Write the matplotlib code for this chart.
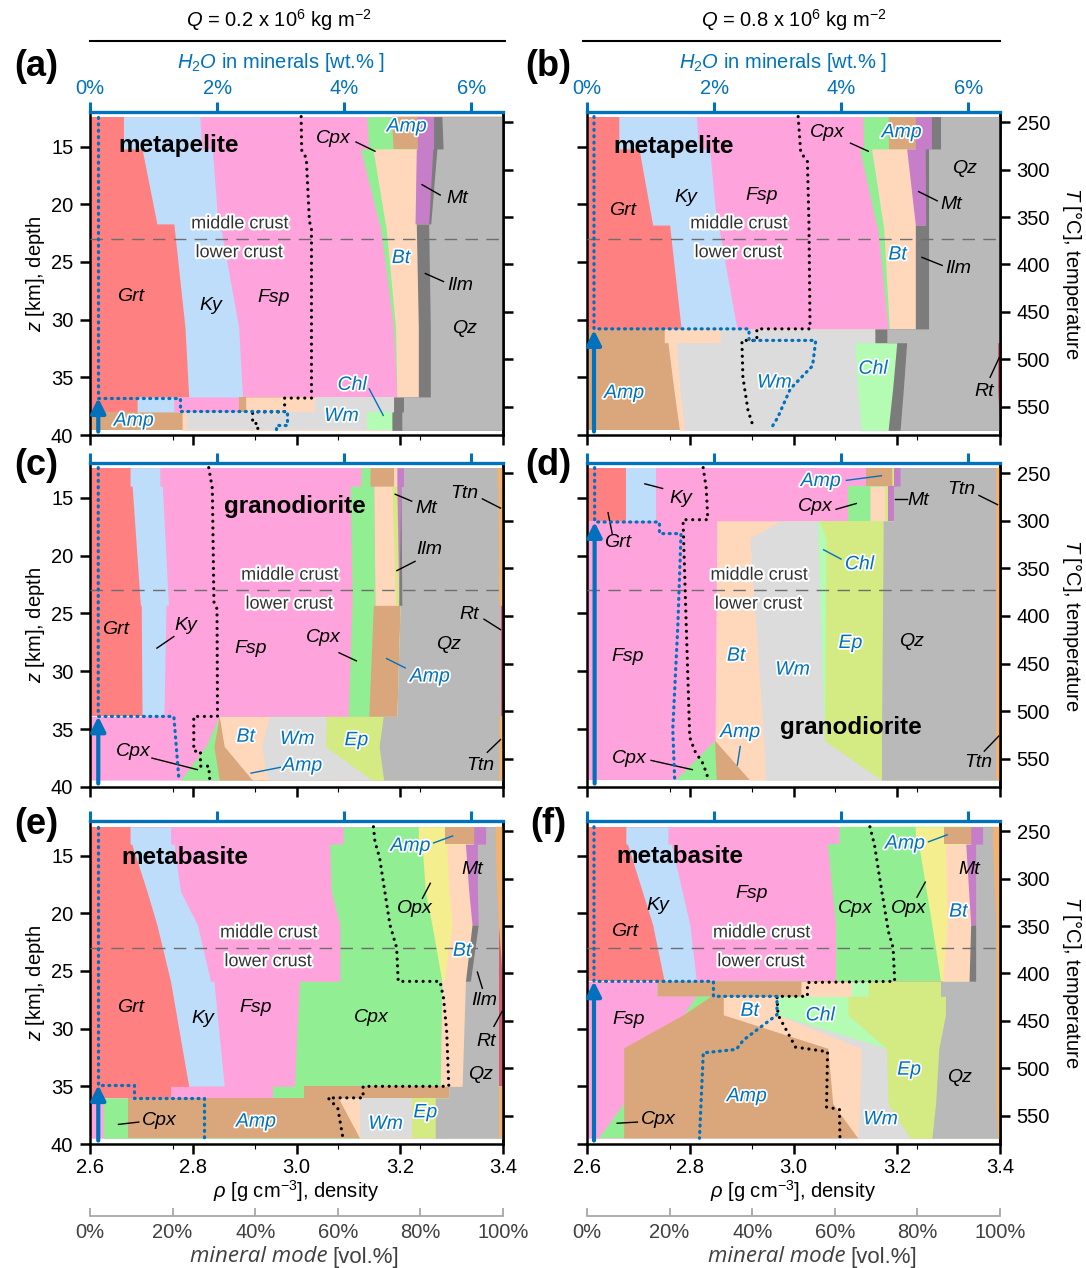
import numpy as np
import matplotlib
matplotlib.use('Agg')
import matplotlib.pyplot as plt
import matplotlib.patheffects as pe

plt.rcParams['font.family'] = ['Liberation Sans', 'DejaVu Sans']
plt.rcParams['mathtext.fontset'] = 'custom'
plt.rcParams['mathtext.rm'] = 'Liberation Sans'
plt.rcParams['mathtext.it'] = 'Liberation Sans:italic'
plt.rcParams['mathtext.bf'] = 'Liberation Sans:bold'

BLUE = '#0072BD'
W, H = 1086, 1268

# stacking order of the phases (left -> right); Amp_low is amphibole that
# appears on the left side of the column below the dehydration front
order = ['Amp_low', 'Grt', 'Ky', 'Fsp', 'Cpx', 'Opx', 'Amp', 'Bt', 'Wm', 'Chl',
         'Ep', 'Mt', 'Ilm', 'Qz', 'Rt', 'Ttn']
colors = {'Amp_low': '#D9A77B', 'Grt': '#FF8080', 'Ky': '#BEDDFB', 'Fsp': '#FFA3DC',
          'Cpx': '#92EE92', 'Opx': '#F4EE8E', 'Amp': '#D9A77B', 'Bt': '#FFD8BC',
          'Wm': '#DCDCDC', 'Chl': '#B4FBB4', 'Ep': '#D4EA82', 'Mt': '#C77EC9',
          'Ilm': '#7C7C7C', 'Qz': '#B9B9B9', 'Rt': '#D45C70', 'Ttn': '#F2B272'}

# ---------------- (a) metapelite, Q = 0.2 ----------------
z_a = [12.4, 15.2, 15.2, 21.7, 21.7, 30.7, 36.7, 36.7, 38.0, 38.0, 39.6]
modes_a = {
    'Amp_low': [0, 0, 0, 0, 0, 0, 0, 0, 0, 22.3, 22.3],
    'Grt': [8.1, 8.1, 12.6, 16.2, 20.3, 23.0, 23.9, 11.4, 11.4, 0, 0],
    'Ky': [18.5, 18.9, 17.0, 14.8, 11.2, 13.0, 13.0, 8.9, 8.9, 0, 0],
    'Fsp': [40.4, 40.5, 35.9, 39.0, 38.7, 37.5, 37.4, 15.8, 15.8, 0, 0],
    'Cpx': [6.1, 6.0, 3.0, 1.5, 1.4, 0.5, 0, 0, 0, 0, 0],
    'Amp': [6.0, 5.8, 0, 0, 0, 0, 0, 1.6, 1.6, 0, 0],
    'Bt': [0, 0, 10.5, 7.2, 7.4, 5.5, 5.2, 16.7, 16.7, 1.2, 1.2],
    'Wm': [0, 0, 0, 0, 0, 0, 0, 19.1, 19.1, 43.5, 43.5],
    'Chl': [0, 0, 0, 0, 0, 0, 0, 0, 0, 6.1, 6.1],
    'Mt': [4.1, 3.9, 4.0, 3.3, 0, 0, 0, 0, 0, 0, 0],
    'Ilm': [2.0, 2.3, 1.0, 0.5, 3.0, 2.9, 2.9, 2.4, 2.4, 2.4, 2.4],
    'Qz': [14.8, 14.5, 16.0, 17.5, 18.0, 17.6, 17.6, 24.1, 24.1, 24.5, 24.5],
}
rho_z_a = [12.4, 15.3, 16.0, 21.5, 22.0, 36.8, 36.8, 38.0, 38.0, 39.0, 39.0, 39.6]
rho_a = [3.009, 3.010, 3.019, 3.025, 3.029, 3.029, 2.977, 2.977, 2.915, 2.915, 2.925, 2.925]
h2o_z_a = [12.4, 36.8, 36.8, 37.9, 37.9, 39.1, 39.1, 39.6]
h2o_a = [0.13, 0.13, 1.42, 1.42, 3.10, 3.10, 2.93, 2.93]

# ---------------- (b) metapelite, Q = 0.8 ----------------
z_b = [12.4, 15.2, 15.2, 21.8, 21.8, 30.8, 30.8, 32.0, 32.0, 36.0, 39.6]
modes_b = {
    'Amp_low': [0, 0, 0, 0, 0, 0, 18.7, 18.7, 19.6, 21.0, 22.4],
    'Grt': [7.7, 7.7, 12.6, 15.9, 20.0, 22.8, 0, 0, 0, 0, 0],
    'Ky': [18.8, 19.3, 17.1, 15.5, 11.8, 13.5, 0, 0, 0, 0, 0],
    'Fsp': [40.3, 40.0, 36.3, 38.7, 38.5, 36.6, 0, 0, 0, 0, 0],
    'Cpx': [6.1, 6.0, 2.9, 1.6, 1.5, 0.3, 0, 0, 0, 0, 0],
    'Amp': [6.6, 6.5, 0, 0, 0, 0, 0, 0, 0, 0, 0],
    'Bt': [0, 0, 8.5, 7.8, 7.7, 6.3, 13.5, 13.5, 2.0, 1.5, 1.2],
    'Wm': [0, 0, 0, 0, 0, 0, 37.5, 37.5, 43.2, 43.0, 42.8],
    'Chl': [0, 0, 0, 0, 0, 0, 0, 0, 10.2, 8.5, 6.5],
    'Mt': [3.9, 3.9, 4.5, 2.5, 0, 0, 0, 0, 0, 0, 0],
    'Ilm': [2.2, 2.2, 0.8, 0.7, 3.2, 3.2, 2.9, 2.9, 2.4, 2.6, 2.9],
    'Qz': [14.4, 14.4, 17.3, 17.3, 17.3, 17.3, 27.4, 27.4, 22.0, 22.8, 24.2],
    'Rt': [0, 0, 0, 0, 0, 0, 0, 0, 0.6, 0.6, 0],
}
rho_z_b = [12.4, 15.5, 16.3, 21.8, 30.8, 30.8, 31.8, 31.8, 35.0, 37.9, 39.4]
rho_b = [3.009, 3.014, 3.027, 3.030, 3.032, 2.929, 2.929, 2.900, 2.902, 2.912, 2.923]
h2o_z_b = [12.4, 30.8, 30.8, 31.8, 31.8, 34.0, 36.0, 38.5, 39.4]
h2o_b = [0.11, 0.11, 2.55, 2.55, 3.60, 3.55, 3.20, 3.00, 2.90]

# ---------------- (c) granodiorite, Q = 0.2 ----------------
z_c = [12.4, 14.0, 14.0, 24.3, 24.3, 33.9, 33.9, 36.5, 39.4]
modes_c = {
    'Grt': [9.7, 9.7, 10.2, 12.2, 12.4, 12.6, 0, 0, 0],
    'Ky': [7.2, 7.2, 7.3, 6.8, 6.0, 5.3, 0, 0, 0],
    'Fsp': [48.7, 48.7, 45.5, 44.5, 45.0, 44.6, 31.3, 28.0, 21.9],
    'Cpx': [2.2, 2.2, 5.7, 5.5, 5.2, 5.0, 0, 2.0, 9.4],
    'Amp': [5.7, 5.7, 0, 0, 6.5, 6.8, 0, 2.5, 8.0],
    'Bt': [0.8, 0.8, 4.4, 5.0, 0, 0, 12.1, 9.0, 3.8],
    'Wm': [0, 0, 0, 0, 0, 0, 13.8, 15.5, 25.2],
    'Ep': [0, 0, 1.2, 0.8, 0, 0, 13.8, 13.0, 2.8],
    'Mt': [1.6, 1.6, 1.0, 0, 0, 0, 0, 0, 0],
    'Ilm': [0, 0, 0, 0.7, 0, 0, 0, 0, 0],
    'Qz': [22.7, 22.7, 23.5, 23.5, 24.3, 25.1, 28.0, 29.0, 27.9],
    'Rt': [0, 0, 0, 0, 0.6, 0.6, 0, 0, 0],
    'Ttn': [1.4, 1.4, 1.2, 1.0, 0, 0, 1.0, 1.0, 1.0],
}
rho_z_c = [12.4, 14.2, 24.0, 24.6, 33.9, 33.9, 36.9, 36.9, 38.2, 38.2, 39.4]
rho_c = [2.830, 2.837, 2.840, 2.846, 2.847, 2.801, 2.801, 2.814, 2.814, 2.830, 2.832]
h2o_z_c = [12.4, 33.9, 33.9, 39.4]
h2o_c = [0.13, 0.13, 1.32, 1.40]

# ---------------- (d) granodiorite, Q = 0.8 ----------------
z_d = [12.4, 14.0, 14.0, 17.0, 17.0, 18.5, 36.0, 39.4]
modes_d = {
    'Grt': [9.4, 9.4, 9.4, 9.4, 0, 0, 0, 0],
    'Ky': [7.3, 7.3, 7.3, 7.3, 0, 0, 0, 0],
    'Fsp': [50.9, 50.9, 46.5, 46.5, 31.4, 31.4, 31.0, 21.6],
    'Cpx': [0, 0, 5.3, 5.3, 0, 0, 0, 9.8],
    'Amp': [6.2, 6.2, 0, 0, 0, 0, 0, 8.0],
    'Bt': [0, 0, 3.6, 3.6, 15.5, 8.0, 11.8, 3.8],
    'Wm': [0, 0, 0, 0, 9.0, 16.5, 14.7, 28.1],
    'Chl': [0, 0, 0, 0, 0.3, 2.0, 0, 0],
    'Ep': [0.6, 0.6, 0.8, 0.8, 15.5, 13.8, 13.8, 0],
    'Mt': [1.4, 1.4, 1.3, 1.3, 0, 0, 0, 0],
    'Qz': [23.2, 23.2, 24.8, 24.8, 27.3, 27.3, 27.7, 27.7],
    'Ttn': [1.0, 1.0, 1.0, 1.0, 1.0, 1.0, 1.0, 1.0],
}
rho_z_d = [12.4, 14.2, 16.9, 16.9, 25.7, 35.7, 36.9, 38.0, 39.3]
rho_d = [2.825, 2.831, 2.834, 2.786, 2.792, 2.799, 2.809, 2.825, 2.835]
h2o_z_d = [12.4, 17.1, 17.1, 18.1, 18.1, 26.0, 35.0, 39.4]
h2o_d = [0.12, 0.12, 1.14, 1.14, 1.48, 1.43, 1.35, 1.38]

# ---------------- (e) metabasite, Q = 0.2 ----------------
z_e = [12.5, 14.0, 14.0, 18.1, 21.0, 21.0, 25.9, 25.9, 35.0, 35.0, 36.0, 36.0, 39.5]
modes_e = {
    'Grt': [9.7, 9.7, 10.1, 13.8, 16.2, 16.2, 19.5, 19.5, 23.9, 19.5, 19.5, 0, 0],
    'Ky': [9.8, 9.8, 10.2, 8.1, 9.8, 9.8, 9.7, 10.5, 8.6, 0, 0, 0, 0],
    'Fsp': [41.8, 41.8, 37.7, 36.5, 34.5, 34.5, 31.3, 20.7, 17.0, 24.7, 24.7, 3.2, 3.2],
    'Cpx': [18.2, 18.2, 22.4, 22.8, 22.3, 22.3, 24.7, 34.5, 35.3, 7.7, 7.7, 6.1, 6.1],
    'Opx': [6.5, 6.5, 6.0, 5.7, 4.9, 4.9, 0.5, 0, 0, 0, 0, 0, 0],
    'Amp': [6.9, 6.9, 0, 0, 0, 0, 0, 0, 0, 35.0, 35.0, 50.8, 56.0],
    'Bt': [0, 0, 4.5, 4.8, 4.8, 4.8, 5.2, 5.7, 5.3, 0, 0, 5.2, 0],
    'Wm': [0, 0, 0, 0, 0, 0, 0, 0, 0, 0, 0, 12.6, 12.6],
    'Ep': [0, 0, 0, 0, 0, 0, 0, 0, 0, 0, 0, 5.7, 5.7],
    'Mt': [2.9, 2.9, 2.9, 2.1, 1.5, 0, 0, 0, 0, 0, 0, 0, 0],
    'Ilm': [0, 0, 0, 0, 0, 1.5, 1.2, 0, 0, 0, 0, 0, 0],
    'Qz': [2.4, 2.4, 4.4, 4.8, 5.0, 5.0, 6.9, 8.1, 8.9, 12.1, 12.1, 15.4, 15.4],
    'Rt': [0, 0, 0, 0, 0, 0, 1.0, 1.0, 1.0, 0, 0, 0, 0],
    'Ttn': [1.8, 1.8, 1.8, 1.4, 1.0, 1.0, 0, 0, 0, 1.0, 1.0, 1.0, 1.0],
}
rho_z_e = [12.5, 13.8, 15.2, 18.1, 21.0, 23.0, 25.9, 25.9, 27.4, 30.3, 35.0, 35.0,
           36.0, 36.0, 36.9, 39.5]
rho_e = [3.149, 3.152, 3.161, 3.171, 3.181, 3.194, 3.197, 3.278, 3.285, 3.291, 3.295,
         3.129, 3.129, 3.061, 3.080, 3.090]
h2o_z_e = [12.5, 34.9, 34.9, 36.0, 36.0, 39.5]
h2o_e = [0.13, 0.13, 0.69, 0.69, 1.79, 1.79]

# ---------------- (f) metabasite, Q = 0.8 ----------------
z_f = [12.5, 14.0, 14.0, 21.0, 21.0, 25.9, 25.9, 27.2, 27.2, 28.8, 31.7, 36.5, 39.5]
modes_f = {
    'Grt': [9.4, 9.4, 9.8, 15.9, 15.9, 18.7, 0, 0, 0, 0, 0, 0, 0],
    'Ky': [10.2, 10.2, 10.6, 9.0, 9.0, 7.8, 0, 0, 0, 0, 0, 0, 0],
    'Fsp': [41.5, 41.5, 37.9, 35.4, 35.4, 33.8, 17.1, 17.1, 26.5, 23.6, 9.0, 9.0, 2.9],
    'Cpx': [18.4, 18.4, 22.0, 23.2, 23.2, 25.3, 0, 0, 3.7, 0, 0, 0, 6.1],
    'Opx': [6.9, 6.9, 6.5, 3.7, 3.7, 0.5, 0, 0, 0, 0, 0, 0, 0],
    'Amp': [6.5, 6.5, 0, 0, 0, 0, 34.7, 34.7, 2.8, 9.4, 49.3, 50.5, 56.6],
    'Bt': [0, 0, 4.9, 5.7, 5.7, 6.4, 12.2, 12.2, 13.0, 13.0, 8.1, 6.5, 0],
    'Wm': [0, 0, 0, 0, 0, 0, 0, 0, 0, 0, 6.1, 6.9, 12.6],
    'Chl': [0, 0, 0, 0, 0, 0, 4.1, 4.1, 17.2, 17.2, 0, 0, 0],
    'Ep': [0, 0, 0, 0, 0, 0, 17.5, 17.5, 23.6, 23.6, 12.7, 11.5, 5.3],
    'Mt': [2.9, 2.9, 2.4, 1.2, 0, 0, 0, 0, 0, 0, 0, 0, 0],
    'Ilm': [0, 0, 0, 0, 1.2, 1.6, 0, 0, 0, 0, 0, 0, 0],
    'Qz': [2.4, 2.4, 4.1, 4.9, 4.9, 4.9, 13.4, 13.4, 12.2, 12.2, 13.8, 14.6, 15.9],
    'Ttn': [1.8, 1.8, 1.8, 1.0, 1.0, 1.0, 1.0, 1.0, 1.0, 1.0, 1.0, 1.0, 0.6],
}
rho_z_f = [12.5, 14.1, 18.1, 21.6, 23.0, 25.9, 26.0, 27.2, 27.2, 28.8, 31.6, 32.0, 36.8, 37.0, 39.5]
rho_f = [3.148, 3.157, 3.171, 3.184, 3.193, 3.196, 3.027, 3.027, 2.968, 2.970, 3.004,
         3.066, 3.064, 3.089, 3.090]
h2o_z_f = [12.5, 25.9, 25.9, 27.2, 27.2, 28.8, 30.0, 31.0, 31.8, 32.1, 39.5]
h2o_f = [0.11, 0.11, 1.99, 1.99, 2.99, 2.99, 2.70, 2.46, 2.35, 1.83, 1.77]

# depth where fluid release starts (arrow tip)
arrow_top = [36.8, 30.9, 33.9, 17.1, 34.9, 25.9]

# phase labels: text, x [vol.%], z [km], colour, optional leader line
labels_a = [('Grt', 9.7, 28.0, 'k'), ('Ky', 29.2, 28.8, 'k'), ('Fsp', 44.5, 28.1, 'k'),
            ('Cpx', 59.0, 14.3, 'k', (64.4, 14.6, 69.0, 15.4)), ('Amp', 76.7, 13.3, 'b'),
            ('Mt', 88.8, 19.5, 'k', (84.8, 19.2, 80.4, 18.3)), ('Bt', 75.3, 24.7, 'b'),
            ('Ilm', 89.6, 27.0, 'k', (85.6, 26.7, 81.2, 26.0)), ('Qz', 90.7, 30.8, 'k'),
            ('Chl', 63.5, 35.7, 'b', (67.6, 36.0, 71.0, 38.3)), ('Amp', 10.6, 38.8, 'b'),
            ('Wm', 60.9, 38.4, 'b')]
labels_b = [('Grt', 8.6, 20.5, 'k'), ('Ky', 24.0, 19.4, 'k'), ('Fsp', 42.4, 19.2, 'k'),
            ('Cpx', 58.2, 13.8, 'k', (63.8, 14.7, 68.1, 15.4)), ('Amp', 76.2, 13.8, 'b'),
            ('Qz', 91.5, 16.9, 'k'), ('Mt', 88.3, 20.0, 'k', (84.8, 19.7, 80.3, 18.9)),
            ('Bt', 75.2, 24.4, 'b'), ('Ilm', 89.9, 25.6, 'k', (86.0, 25.3, 81.1, 24.6)),
            ('Chl', 69.3, 34.3, 'b'), ('Wm', 45.4, 35.5, 'b'), ('Amp', 9.0, 36.4, 'b'),
            ('Rt', 96.2, 36.2, 'k', (97.6, 35.0, 99.8, 33.3))]
labels_c = [('Grt', 6.3, 26.4, 'k'), ('Ky', 23.1, 26.0, 'k', (20.3, 27.0, 16.2, 28.0)),
            ('Fsp', 38.8, 28.0, 'k'), ('Cpx', 56.5, 27.1, 'k', (60.3, 28.4, 64.5, 29.1)),
            ('Amp', 82.3, 30.5, 'b', (76.3, 29.7, 71.8, 28.9)), ('Qz', 86.9, 27.7, 'k'),
            ('Ttn', 90.7, 14.6, 'k', (95.0, 15.1, 99.4, 15.9)),
            ('Mt', 81.4, 15.9, 'k', (77.9, 15.3, 73.9, 14.7)),
            ('Ilm', 82.2, 19.5, 'k', (78.7, 20.5, 74.3, 21.3)),
            ('Rt', 91.7, 25.1, 'k', (95.4, 25.5, 99.4, 26.4)),
            ('Ttn', 94.6, 38.1, 'k', (96.2, 37.0, 99.4, 35.9)),
            ('Cpx', 10.4, 36.9, 'k', (15.0, 37.5, 26.0, 38.5)),
            ('Bt', 37.7, 35.7, 'b'), ('Wm', 50.2, 35.9, 'b'), ('Ep', 64.5, 36.0, 'b'),
            ('Amp', 51.4, 38.2, 'b', (46.1, 38.3, 39.0, 38.8))]
labels_d = [('Ky', 22.6, 15.1, 'k', (18.3, 14.2, 14.0, 13.8)),
            ('Grt', 7.3, 18.9, 'k', (6.1, 18.1, 5.1, 16.3)),
            ('Amp', 56.6, 13.6, 'b', (62.8, 13.5, 71.3, 13.1)),
            ('Cpx', 55.2, 15.8, 'k', (60.3, 16.0, 65.2, 15.5)),
            ('Mt', 80.2, 15.2, 'k', (77.4, 15.1, 74.6, 15.1)),
            ('Ttn', 90.7, 14.3, 'k', (94.9, 14.8, 99.4, 15.6)),
            ('Chl', 66.0, 20.8, 'b', (61.5, 20.3, 57.3, 19.5)),
            ('Ep', 63.8, 27.6, 'b'), ('Qz', 78.6, 27.4, 'k'), ('Fsp', 9.8, 28.7, 'k'),
            ('Bt', 36.1, 28.7, 'b'), ('Wm', 49.8, 29.9, 'b'),
            ('Amp', 37.1, 35.3, 'b', (37.1, 36.5, 36.4, 38.1)),
            ('Cpx', 10.2, 37.5, 'k', (15.5, 37.7, 25.5, 38.5)),
            ('Ttn', 94.7, 37.9, 'k', (96.2, 36.9, 99.7, 35.6))]
labels_e = [('Grt', 9.7, 28.2, 'k'), ('Ky', 27.2, 29.1, 'k'), ('Fsp', 40.2, 28.2, 'k'),
            ('Cpx', 68.2, 29.0, 'k'), ('Amp', 77.6, 14.2, 'b', (83.2, 13.9, 87.8, 13.3)),
            ('Mt', 92.5, 16.2, 'k'), ('Opx', 78.6, 19.6, 'k', (80.5, 18.7, 82.4, 17.4)),
            ('Bt', 90.1, 23.3, 'b'), ('Ilm', 95.4, 27.6, 'k', (95.0, 26.5, 93.8, 25.1)),
            ('Rt', 95.9, 31.1, 'k', (97.8, 29.8, 99.8, 28.5)), ('Qz', 94.6, 34.0, 'k'),
            ('Cpx', 16.8, 38.0, 'k', (11.8, 38.1, 6.9, 38.3)), ('Amp', 40.2, 38.1, 'b'),
            ('Wm', 71.6, 38.3, 'b'), ('Ep', 81.2, 37.3, 'b')]
labels_f = [('Ky', 17.1, 19.3, 'k'), ('Grt', 9.0, 21.6, 'k'), ('Fsp', 39.9, 18.3, 'k'),
            ('Cpx', 65.0, 19.6, 'k'), ('Opx', 78.0, 19.6, 'k', (79.9, 18.6, 81.9, 17.3)),
            ('Amp', 77.0, 14.0, 'b', (82.7, 13.8, 87.2, 13.2)), ('Mt', 92.5, 16.2, 'k'),
            ('Bt', 89.9, 19.9, 'b'), ('Fsp', 10.2, 29.2, 'k'), ('Bt', 39.4, 28.5, 'b'),
            ('Chl', 56.5, 28.9, 'b'), ('Ep', 78.0, 33.6, 'b'), ('Qz', 90.2, 34.2, 'k'),
            ('Amp', 38.7, 35.9, 'b'), ('Wm', 71.1, 37.9, 'b'),
            ('Cpx', 17.3, 37.9, 'k', (12.2, 38.1, 7.3, 38.2))]

rocks = [('metapelite', 21.5, 14.9), ('metapelite', 20.9, 15.0),
         ('granodiorite', 49.5, 15.8), ('granodiorite', 64.0, 34.9),
         ('metabasite', 22.9, 15.2), ('metabasite', 22.4, 15.1)]
crust_x = [36.3, 36.8, 48.4, 41.7, 43.3, 42.3]

panels = [(z_a, modes_a, rho_z_a, rho_a, h2o_z_a, h2o_a, labels_a),
          (z_b, modes_b, rho_z_b, rho_b, h2o_z_b, h2o_b, labels_b),
          (z_c, modes_c, rho_z_c, rho_c, h2o_z_c, h2o_c, labels_c),
          (z_d, modes_d, rho_z_d, rho_d, h2o_z_d, h2o_d, labels_d),
          (z_e, modes_e, rho_z_e, rho_e, h2o_z_e, h2o_e, labels_e),
          (z_f, modes_f, rho_z_f, rho_f, h2o_z_f, h2o_f, labels_f)]
letters = ['(a)', '(b)', '(c)', '(d)', '(e)', '(f)']


def fx(px):
    return px / W


def fy(py):
    return 1 - py / H


def z2T(z):
    return 250 + (np.asarray(z, float) - 12.88) * 12.16


def T2z(T):
    return 12.88 + (np.asarray(T, float) - 250) / 12.16


fig = plt.figure(figsize=(W / 100, H / 100), dpi=100)

col_x = [90, 587]
col_w = 413
row_y = [(112, 435), (463, 787), (821, 1144)]
halo = [pe.withStroke(linewidth=2.5, foreground='white')]

for i, (z, modes, rz, rv, hz, hv, labels) in enumerate(panels):
    row, col = divmod(i, 2)
    top, bot = row_y[row]
    ax = fig.add_axes([fx(col_x[col]), fy(bot), fx(col_w), (bot - top) / H])
    ax.set_xlim(0, 100)
    ax.set_ylim(40, 12)

    # stacked mineral modes, painted left to right
    z = np.array(z, float)
    cum = np.zeros(len(z))
    for m in order:
        if m not in modes:
            continue
        v = np.array(modes[m], float)
        left = cum.copy()
        cum = cum + v
        pos = v > 0
        mask = pos | np.r_[pos[1:], False] | np.r_[False, pos[:-1]]
        ax.fill_betweenx(z, left, 100, where=mask, color=colors[m], lw=0)

    ax.axhline(23, color='#6E6E6E', lw=1.0, dashes=(9, 6), zorder=3)
    ax.text(crust_x[i], 21.7, 'middle crust', ha='center', va='center', fontsize=13,
            color='#333333', zorder=5, path_effects=[pe.withStroke(linewidth=3, foreground='white')])
    ax.text(crust_x[i] - 0.2, 24.2, 'lower crust', ha='center', va='center', fontsize=13,
            color='#333333', zorder=5, path_effects=[pe.withStroke(linewidth=3, foreground='white')])

    for lab in labels:
        txt, x, y, c = lab[:4]
        color = BLUE if c == 'b' else 'k'
        if len(lab) > 4:
            x0, y0, x1, y1 = lab[4]
            ax.plot([x0, x1], [y0, y1], color=color, lw=1.0, zorder=4)
        ax.text(x, y, txt, ha='center', va='center', fontsize=14, style='italic',
                color=color, zorder=5, path_effects=halo if c == 'b' else None)

    name, rx, ry = rocks[i]
    ax.text(rx, ry, name, ha='center', va='center', fontsize=17.5, fontweight='bold', zorder=5)

    # axes styling
    for s in ['left', 'right', 'bottom']:
        ax.spines[s].set_linewidth(1.8)
    ax.spines['top'].set_color(BLUE)
    ax.spines['top'].set_linewidth(2.4)
    ax.tick_params(axis='x', bottom=False, top=False, labelbottom=False)
    ax.set_yticks([15, 20, 25, 30, 35, 40])
    ax.tick_params(axis='y', direction='out', length=7, width=1.8, labelsize=14.5, pad=5,
                   labelleft=(col == 0))
    if col == 0:
        ax.set_ylabel(r'$z$ [km], depth', fontsize=14.5, labelpad=3)

    sec = ax.secondary_yaxis('right', functions=(z2T, T2z))
    sec.set_yticks([250, 300, 350, 400, 450, 500, 550])
    sec.spines['right'].set_linewidth(1.8)
    sec.tick_params(direction='out', length=7, width=1.8, labelsize=14.5, pad=5,
                    labelright=(col == 1))
    if col == 1:
        sec.set_ylabel(r'$T$ [°C], temperature', fontsize=14.5, rotation=270,
                       va='bottom', labelpad=7)

    # density axis (bottom)
    ax_r = ax.twiny()
    ax_r.set_xlim(2.6, 3.4)
    for s in ax_r.spines.values():
        s.set_visible(False)
    ax_r.xaxis.set_ticks_position('bottom')
    ax_r.xaxis.set_label_position('bottom')
    ax_r.set_xticks([2.6, 2.8, 3.0, 3.2, 3.4])
    ax_r.set_xticklabels(['2.6', '2.8', '3.0', '3.2', '3.4'])
    ax_r.tick_params(direction='out', length=7, width=1.8, labelsize=14.5, pad=3,
                     labelbottom=(row == 2))
    if row == 2:
        ax_r.set_xlabel(r'$\rho$ [g cm$^{-3}$], density', fontsize=14.5, labelpad=1)
    ax_r.plot(rv, rz, color='k', lw=2.3, linestyle=(0, (0.01, 2.1)),
              dash_capstyle='round', zorder=6)

    # H2O axis (top)
    ax_h = ax.twiny()
    ax_h.set_xlim(0, 6.5)
    for s in ax_h.spines.values():
        s.set_visible(False)
    ax_h.set_xticks([0, 2, 4, 6])
    ax_h.set_xticklabels(['0%', '2%', '4%', '6%'])
    ax_h.tick_params(direction='out', length=7, width=2.2, colors=BLUE, labelsize=14.5,
                     pad=3, labeltop=(row == 0))
    ax_h.plot(hv, hz, color=BLUE, lw=2.3, linestyle=(0, (0.3, 1.7)),
              dash_capstyle='round', zorder=6)
    ax_h.annotate('', xy=(hv[0], arrow_top[i]), xytext=(hv[0], 39.7),
                  arrowprops=dict(arrowstyle='-|>', color=BLUE, lw=3,
                                  mutation_scale=22, shrinkA=0, shrinkB=0), zorder=7)

    lx = 36 if col == 0 else 548
    ly = [66, 466, 825][row]
    fig.text(fx(lx), fy(ly), letters[i], ha='center', va='center', fontsize=26,
             fontweight='bold')

# column headers
for cx, q, hx, x0, x1 in [(279, '0.2', 281, 90, 505), (794, '0.8', 783, 583, 1000)]:
    fig.text(fx(cx), fy(20), r'$Q$ = ' + q + r' x 10$^6$ kg m$^{-2}$', ha='center',
             va='center', fontsize=14.5)
    fig.add_artist(plt.Line2D([fx(x0), fx(x1)], [fy(41), fy(41)], color='k', lw=1.5))
    fig.text(fx(hx), fy(62), r'$H_2O$ in minerals [wt.% ]', ha='center', va='center',
             fontsize=14.5, color=BLUE)

# mineral mode scale under each column
for col in range(2):
    axm = fig.add_axes([fx(col_x[col]), fy(1216), fx(col_w), 0.0005])
    axm.set_xlim(0, 100)
    axm.set_yticks([])
    for s in ['left', 'right', 'top']:
        axm.spines[s].set_visible(False)
    axm.spines['bottom'].set_color('#A8A8A8')
    axm.spines['bottom'].set_linewidth(1.3)
    axm.set_xticks([0, 20, 40, 60, 80, 100])
    axm.set_xticklabels(['0%', '20%', '40%', '60%', '80%', '100%'])
    axm.tick_params(axis='x', direction='in', length=6, width=1.3, color='#A8A8A8',
                    labelcolor='#404040', labelsize=14.5, pad=5)
    axm.patch.set_visible(False)
    mx = [328, 846][col]
    fig.text(fx(mx), fy(1257), 'mineral mode', ha='right', va='center', fontsize=16,
             style='italic', family='Open Sans', color='#404040')
    fig.text(fx(mx + 4), fy(1257), '[vol.%]', ha='left', va='center', fontsize=16,
             color='#404040')

fig.savefig('out.png', dpi=100)
